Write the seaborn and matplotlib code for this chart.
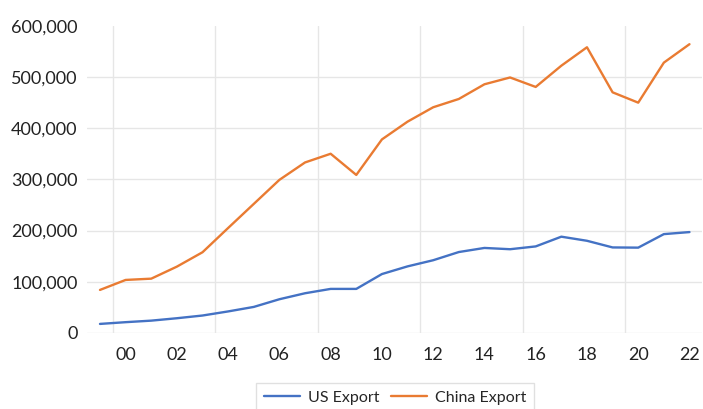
import matplotlib
matplotlib.use("Agg")
import matplotlib.pyplot as plt
import matplotlib.ticker as mticker
import numpy as np
import pandas as pd
import seaborn as sns

years = list(range(1999, 2023))
us_export = [17600, 21000, 24000, 28700, 34000, 42000, 50800, 65800, 77500, 86000,
             86000, 115000, 130000, 142000, 158000, 166000, 163500, 169000, 188000, 180000,
             167000, 166600, 193000, 197000]
china_export = [84000, 103500, 106000, 129500, 157600, 205000, 252000, 299000, 333000, 350000,
                308600, 378000, 412700, 440800, 457000, 485700, 499000, 480500, 522000, 558000,
                470000, 449800, 528000, 564000]
series_names = ["US Export", "China Export"]
colors = ["#4472C4", "#E97B32"]

df = pd.DataFrame({
    "year": years * 2,
    "value": us_export + china_export,
    "series": [series_names[0]] * len(years) + [series_names[1]] * len(years),
})

sns.set_style("white")
plt.rcParams["font.family"] = ["Lato", "DejaVu Sans"]

fig = plt.figure(figsize=(7.03, 4.09), dpi=100)
ax = fig.add_axes([0.124, 0.186, 0.875, 0.751])

sns.lineplot(data=df, x="year", y="value", hue="series", palette=colors,
             linewidth=1.7, ax=ax, legend=True)

ax.set_xlim(1998.5, 2022.5)
ax.set_ylim(0, 600000)
ax.set_yticks(np.arange(0, 600001, 100000))
ax.yaxis.set_major_formatter(mticker.FuncFormatter(lambda v, _: f"{int(v):,}"))
ax.set_xticks(list(range(2000, 2023, 2)))
ax.set_xticklabels([f"{y % 100:02d}" for y in range(2000, 2023, 2)])
ax.set_xticks([1999.5 + 4 * k for k in range(6)], minor=True)

ax.grid(axis="y", color="#E6E6E6", linewidth=1)
ax.grid(axis="x", which="minor", color="#E6E6E6", linewidth=1)
ax.grid(axis="x", which="major", visible=False)
ax.get_ygridlines()[-1].set_visible(False)
ax.set_axisbelow(True)

for s in ax.spines.values():
    s.set_visible(False)
ax.tick_params(axis="both", which="both", length=0, labelsize=13, colors="#222222")
ax.tick_params(axis="y", pad=7)
ax.tick_params(axis="x", pad=10)
ax.set_xlabel("")
ax.set_ylabel("")

handles, labels = ax.get_legend_handles_labels()
ax.legend(handles, labels, loc="center", bbox_to_anchor=(0.562, 0.027),
          bbox_transform=fig.transFigure, ncol=2, frameon=True, fancybox=False,
          edgecolor="#D9D9D9", fontsize=11.5, handlelength=2.25, handletextpad=0.5,
          columnspacing=0.75, borderpad=0.5)

fig.savefig("out.png", dpi=100)
